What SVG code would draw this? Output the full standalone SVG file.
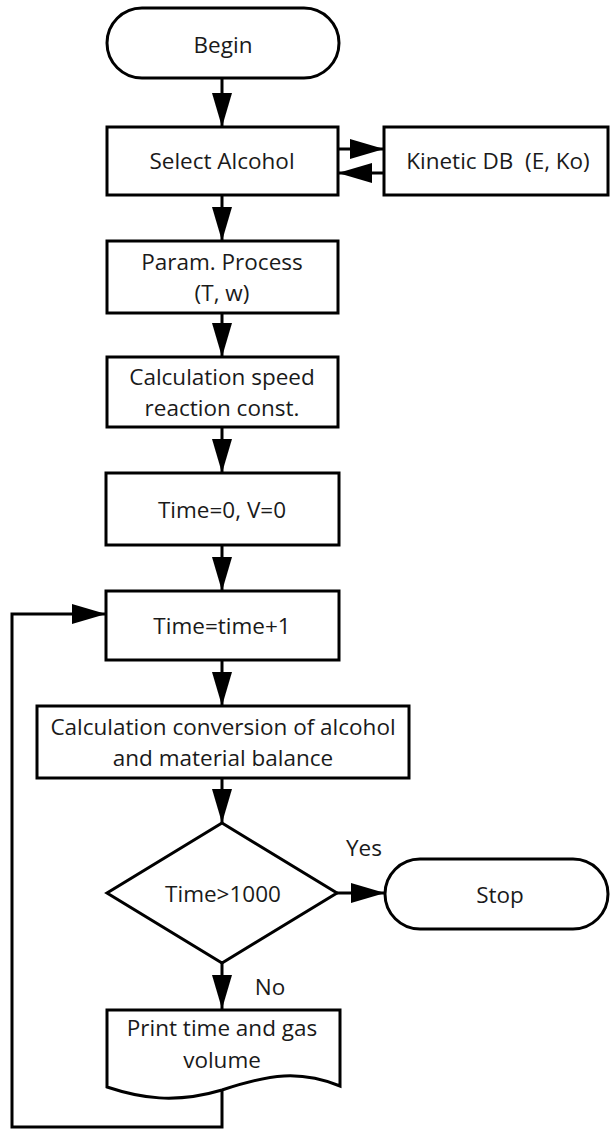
<svg xmlns="http://www.w3.org/2000/svg" width="610" height="1129" viewBox="0 0 610 1129">
<defs>
<marker id="arr" markerUnits="userSpaceOnUse" markerWidth="35" markerHeight="22" refX="34" refY="11" orient="auto">
<path d="M0,1 L34,11 L0,21 Z" fill="#000"/>
</marker>
<style>
.s{fill:#fff;stroke:#000;stroke-width:3}
.c{fill:none;stroke:#000;stroke-width:3}
text{font-family:"Open Sans","Noto Sans","Liberation Sans",sans-serif;font-size:22.5px;fill:#1a1a1a;text-anchor:middle;white-space:pre}
</style>
</defs>
<rect width="610" height="1129" fill="#fff"/>
<g id="connectors">
<line class="c" x1="222" y1="78" x2="222" y2="127" marker-end="url(#arr)"/>
<line class="c" x1="338" y1="149" x2="384" y2="149" marker-end="url(#arr)"/>
<line class="c" x1="384" y1="173" x2="338" y2="173" marker-end="url(#arr)"/>
<line class="c" x1="222" y1="195" x2="222" y2="241" marker-end="url(#arr)"/>
<line class="c" x1="222" y1="313" x2="222" y2="357" marker-end="url(#arr)"/>
<line class="c" x1="222" y1="427" x2="222" y2="473" marker-end="url(#arr)"/>
<line class="c" x1="222" y1="545" x2="222" y2="591" marker-end="url(#arr)"/>
<line class="c" x1="222" y1="660" x2="222" y2="706" marker-end="url(#arr)"/>
<line class="c" x1="222" y1="778" x2="222" y2="823" marker-end="url(#arr)"/>
<line class="c" x1="337" y1="893" x2="385" y2="893" marker-end="url(#arr)"/>
<line class="c" x1="222" y1="963" x2="222" y2="1009" marker-end="url(#arr)"/>
<polyline class="c" points="222,1090 222,1127 12,1127 12,614 106,614" marker-end="url(#arr)"/>
<text x="364" y="856">Yes</text>
<text x="270" y="995">No</text>
</g>
<g id="begin">
<rect class="s" x="107" y="8" width="232" height="70" rx="35" ry="35"/>
<text x="223" y="53">Begin</text>
</g>
<g id="select">
<rect class="s" x="107" y="127" width="231" height="68"/>
<text x="222" y="169">Select Alcohol</text>
</g>
<g id="kinetic">
<rect class="s" x="384" y="127" width="224" height="68"/>
<text x="498" y="169">Kinetic DB  (E, Ko)</text>
</g>
<g id="param">
<rect class="s" x="107" y="241" width="231" height="72"/>
<text x="222" y="270">Param. Process</text>
<text x="222" y="301">(T, w)</text>
</g>
<g id="calcspeed">
<rect class="s" x="107" y="357" width="231" height="70"/>
<text x="222" y="385">Calculation speed</text>
<text x="222" y="416">reaction const.</text>
</g>
<g id="init">
<rect class="s" x="106" y="473" width="233" height="72"/>
<text x="222" y="518">Time=0, V=0</text>
</g>
<g id="increment">
<rect class="s" x="106" y="591" width="233" height="69"/>
<text x="222" y="634">Time=time+1</text>
</g>
<g id="calcconv">
<rect class="s" x="37" y="706" width="372" height="72"/>
<text x="223" y="735">Calculation conversion of alcohol</text>
<text x="223" y="766">and material balance</text>
</g>
<g id="decision">
<polygon class="s" points="222,823 337,893 222,963 107,893"/>
<text x="223" y="902">Time&gt;1000</text>
</g>
<g id="stop">
<rect class="s" x="385" y="859" width="223" height="70" rx="35" ry="35"/>
<text x="500" y="903">Stop</text>
</g>
<g id="print">
<path class="s" d="M107,1010 H340 V1086 C300,1070 270,1074 222,1090 C175,1104 140,1098 107,1087 Z"/>
<text x="222" y="1036">Print time and gas</text>
<text x="222" y="1068">volume</text>
</g>
</svg>
